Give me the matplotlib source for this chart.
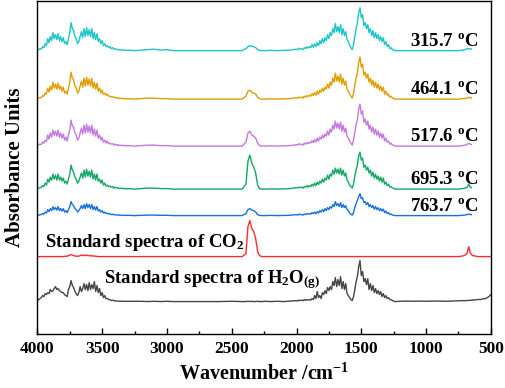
import numpy as np
import matplotlib.pyplot as plt
from matplotlib.ticker import MultipleLocator

nan = float("nan")

# wavenumber grid (cm-1): O-H stretch band, CO2 region, H2O bending band, low-wavenumber end
wn_left = [4000, 3990, 3980, 3970, 3960, 3950, 3940, 3930, 3920, 3910,
           3900, 3890, 3880, 3870, 3860, 3850, 3840, 3830, 3820, 3810,
           3800, 3790, 3780, 3770, 3760, 3750, 3740, 3730, 3720, 3710,
           3700, 3690, 3680, 3670, 3660, 3650, 3640, 3630, 3620, 3610,
           3600, 3590, 3580, 3570, 3560, 3550, 3540, 3530, 3520, 3510,
           3500, 3490, 3480, 3470, 3460, 3450, 3440, 3430, 3420, 3410,
           3400, 3390, 3380, 3370, 3360, 3350, 3340, 3330, 3320, 3310,
           3300]
wn_mid = [3250, 3200, 3150, 3100, 3050, 3000, 2950, 2900, 2800, 2700, 2600, 2500, 2420, 2390,
          2375, 2360, 2345, 2330, 2315, 2300, 2285, 2270, 2240, 2200, 2150, 2100, 2050]
wn_right = [2000, 1990, 1980, 1970, 1960, 1950, 1940, 1930, 1920, 1910,
            1900, 1890, 1880, 1870, 1860, 1850, 1840, 1830, 1820, 1810,
            1800, 1790, 1780, 1770, 1760, 1750, 1740, 1730, 1720, 1710,
            1700, 1690, 1680, 1670, 1660, 1650, 1640, 1630, 1620, 1610,
            1600, 1590, 1580, 1570, 1560, 1550, 1540, 1530, 1520, 1510,
            1500, 1490, 1480, 1470, 1460, 1450, 1440, 1430, 1420, 1410,
            1400, 1390, 1380, 1370, 1360, 1350, 1340, 1330, 1320, 1310,
            1300, 1290, 1280, 1270, 1260, 1250, 1240]
wn_end = [1200, 1150, 1100, 1050, 1000, 950, 900, 850, 800, 750, 720, 700, 685, 670, 660, 650,
          640, 620, 600, 580, 560, 540, 520, 500]

# absorbance (arbitrary units), same grid
a_315 = [0, 1, 2, 1.5, 4, 3, 7, 5, 12, 8,
         14, 10, 18, 12, 16, 11, 17, 10, 14, 9,
         13, 7, 9, 6, 12, 18, 28, 22, 20, 14,
         12, 7, 9, 14, 19, 13, 22, 14, 23, 15,
         21, 14, 22, 12, 18, 11, 17, 9, 12, 7,
         10, 5, 7, 4, 5, 3, 4, 2, 3, 1.5,
         2, 1, 1.5, 0.5, 1, 0.5, 0.8, 0.3, 0.5, 0.3,
         0.5,
         0, 0.5, 1, 1.5, 0.5, 1, 0, 0, 0, 0, 0, 0, 0, 2, 4, 5, 4.5, 4, 3, 1, 0.3, 0, 0, 0.3, 0, 0.3, 0.5,
         1.5, 1, 2.5, 1.5, 2, 1, 3, 2, 4, 2.5,
         4, 3, 6, 3.5, 7, 4, 8, 5, 10, 7,
         12, 8, 13, 10, 16, 12, 18, 15, 22, 18,
         27, 19, 24, 18, 26, 16, 22, 15, 19, 11,
         9, 5, 3, 1, 6, 15, 22, 28, 38, 43,
         33, 36, 25, 28, 22, 26, 18, 22, 15, 20,
         13, 18, 12, 16, 10, 14, 9, 13, 6, 9,
         4, 6, 2, 3, 1, 1, 0,
         0, 0, 0, 0, 0, 0, 0, 0, 0, 0, 0.5, 1, 2, 1.5, 2, 1.5, nan, nan, nan, nan, nan, nan, nan, nan]
a_464 = [0, 1, 1.5, 1.5, 3.5, 3, 6, 5, 11, 7,
         13, 9, 17, 11, 15, 10, 16, 10, 13, 8,
         12, 6, 8, 5, 11, 17, 27, 21, 19, 13,
         11, 6, 8, 13, 18, 12, 21, 13, 22, 14,
         20, 13, 21, 11, 17, 10, 16, 8, 11, 6,
         9, 5, 6, 4, 5, 3, 3, 2, 2.5, 1.5,
         2, 1, 1.5, 0.5, 1, 0.5, 0.8, 0.3, 0.5, 0.3,
         0.5,
         0, 0.5, 1, 1, 0.5, 0.5, 0, 0, 0, 0, 0, 0, 0, 3, 8, 9, 7, 6, 5, 2, 0.5, 0, 0, 0.3, 0, 0.3, 0.5,
         1.5, 1, 2, 1.5, 2, 1, 3, 2, 3.5, 2.5,
         4, 3, 5.5, 3.5, 6.5, 4, 8, 5, 9, 7,
         11, 8, 12, 10, 15, 11, 17, 14, 21, 17,
         26, 18, 23, 17, 25, 15, 21, 14, 18, 10,
         8, 5, 3, 1, 6, 14, 21, 27, 37, 42,
         32, 35, 24, 27, 21, 25, 17, 21, 14, 19,
         12, 17, 11, 15, 9, 13, 8, 12, 5, 8,
         4, 5, 2, 3, 1, 1, 0,
         0, 0, 0, 0, 0, 0, 0, 0, 0, 0, 0.5, 0.5, 1, 1.5, 2, 1, nan, nan, nan, nan, nan, nan, nan, nan]
a_517 = [0, 1.5, 2, 1.5, 4, 3, 6, 4.5, 11, 7,
         13, 9, 16, 11, 15, 10, 16, 9, 13, 8,
         12, 6, 9, 5, 11, 16, 26, 20, 19, 13,
         11, 6, 8, 13, 18, 12, 21, 13, 22, 14,
         20, 13, 21, 11, 17, 10, 16, 8, 11, 6,
         9, 4, 6, 3, 5, 2.5, 3, 2, 2.5, 1,
         2, 1, 1.5, 0.5, 1, 0.5, 0.8, 0.3, 0.5, 0.3,
         0.5,
         0, 0.5, 1, 1, 0.5, 0.5, 0, 0, 0, 0, 0, 0, 0, 4, 13, 15, 11, 10, 8, 3, 0.5, 0, 0, 0.3, 0, 0.3, 0.5,
         1.5, 1, 2.5, 1.5, 2, 1, 3, 2, 3.5, 2.5,
         4, 3, 5.5, 3.5, 6.5, 4, 8, 5, 9, 7,
         11, 8, 12, 10, 15, 11, 17, 14, 21, 17,
         25, 18, 23, 17, 24, 15, 21, 14, 18, 10,
         8, 5, 3, 1, 6, 14, 21, 27, 37, 42,
         32, 35, 24, 27, 21, 25, 17, 21, 14, 19,
         12, 17, 11, 15, 9, 13, 8, 12, 5, 8,
         4, 5, 2, 3, 1, 1, 0,
         0, 0, 0, 0, 0, 0, 0, 0, 0, 0, 0.5, 1, 1.5, 3, 2, 1.5, nan, nan, nan, nan, nan, nan, nan, nan]
a_695 = [0, 1, 1.5, 1.5, 3.5, 2.5, 6, 4, 10, 7,
         12, 9, 15, 10, 14, 9, 15, 9, 12, 8,
         11, 6, 8, 5, 10, 15, 24, 19, 17, 12,
         10, 6, 8, 12, 16, 11, 19, 12, 20, 13,
         18, 12, 19, 10, 15, 9, 15, 8, 10, 6,
         9, 4, 6, 3, 4, 2.5, 3, 2, 2.5, 1,
         2, 1, 1.5, 0.5, 1, 0.5, 0.8, 0.3, 0.5, 0.3,
         0.5,
         0, 0.5, 1, 1, 0.5, 0.5, 0, 0, 0, 0, 0, 0, 0, 5, 28, 34, 26, 22, 16, 4, 0.5, 0, 0, 0.3, 0, 0.3, 0.5,
         1.5, 1, 2, 1.5, 2, 1, 2.5, 2, 3.5, 2,
         3.5, 2.5, 5, 3, 6, 3.5, 7, 4.5, 8, 6,
         10, 7, 11, 9, 14, 10, 15, 13, 19, 15,
         21, 16, 20, 15, 21, 14, 19, 13, 16, 9,
         7, 4, 2.5, 1, 5, 13, 19, 24, 33, 37,
         29, 31, 22, 24, 19, 22, 16, 19, 13, 17,
         11, 15, 10, 13, 8, 12, 7, 11, 5, 7,
         3.5, 5, 2, 2.5, 1, 1, 0,
         0, 0, 0, 0, 0, 0, 0, 0, 0, 0, 0.5, 1, 1.5, 5, 2, 1.5, nan, nan, nan, nan, nan, nan, nan, nan]
a_763 = [0, 0.5, 1, 1, 2, 1.5, 3.5, 2.5, 6, 4,
         7, 5, 9, 6, 8, 5.5, 9, 5, 7, 4.5,
         7, 3.5, 5, 3, 6, 9, 14, 11, 10, 7,
         6, 3.5, 5, 7, 10, 7, 11, 7, 12, 8,
         11, 7, 11, 6, 9, 5.5, 9, 4.5, 6, 3.5,
         5, 2.5, 3.5, 2, 2.5, 1.5, 2, 1, 1.5, 0.8,
         1, 0.5, 0.8, 0.3, 0.5, 0.3, 0.4, 0.2, 0.3, 0.2,
         0.3,
         0, 0.3, 0.5, 0.5, 0.3, 0.3, 0, 0, 0, 0, 0, 0, 0, 2, 6, 7, 5.5, 5, 3.5, 1, 0.3, 0, 0, 0.2, 0, 0.2, 0.3,
         1, 0.5, 1.5, 1, 1, 0.5, 1.5, 1, 2, 1.5,
         2, 1.5, 3, 2, 3.5, 2, 4, 2.5, 5, 3.5,
         6, 4, 7, 5, 8, 6, 9, 7.5, 11, 9,
         14, 10, 12, 9, 13, 8, 11, 8, 10, 6,
         5, 2.5, 1.5, 0.5, 3, 8, 12, 15, 19, 22,
         17, 18, 13, 14, 11, 13, 9, 11, 8, 10,
         6.5, 9, 6, 8, 5, 7, 4.5, 6.5, 3, 4.5,
         2, 3, 1, 1.5, 0.5, 0.5, 0,
         0, 0, 0, 0, 0, 0, 0, 0, 0, 0, 0.3, 0.5, 1, 1.5, 1, 1, nan, nan, nan, nan, nan, nan, nan, nan]
a_co2 = [0, 0, 0, 0, 0, 0, 0, 0, 0, 0,
         0, 0, 0, 0, 0, 0, 0, 0, 0, 0,
         0, 0.3, 0.5, 0.3, 1, 1.5, 2, 1.5, 1, 0.5,
         0.5, 0.3, 0.5, 1, 1.5, 1, 1.5, 1, 1.5, 1,
         1, 0.5, 1, 0.5, 0.5, 0.3, 0.3, 0, 0, 0,
         0, 0, 0, 0, 0, 0, 0, 0, 0, 0,
         0, 0, 0, 0, 0, 0, 0, 0, 0, 0,
         0,
         0, 0, 0, 0, 0, 0, 0, 0, 0, 0, 0, 0, 0, 3, 30, 36, 28, 25, 18, 5, 1, 0, 0, 0, 0, 0, 0,
         0, 0, 0, 0, 0, 0, 0, 0, 0, 0,
         0, 0, 0, 0, 0, 0, 0, 0, 0, 0,
         0, 0, 0, 0, 0, 0, 0, 0, 0, 0,
         0, 0, 0, 0, 0, 0, 0, 0, 0, 0,
         0, 0, 0, 0, 0, 0, 0, 0, 0, 0,
         0, 0, 0, 0, 0, 0, 0, 0, 0, 0,
         0, 0, 0, 0, 0, 0, 0, 0, 0, 0,
         0, 0, 0, 0, 0, 0, 0,
         0, 0, 0, 0, 0, 0, 0, 0, 0, 0, 0.5, 1.5, 3, 10, 4, 2, 1, 0.5, 0, 0, 0, 0, 0, 0]
a_h2o = [1, 2, 3, 4, 6, 5, 8, 7, 9, 8,
         12, 10, 11, 13, 15, 12, 13, 11, 10, 9,
         9, 7, 6, 5, 12, 15, 21, 16, 14, 10,
         8, 6, 9, 15, 10, 13, 18, 12, 17, 11,
         19, 12, 17, 13, 20, 10, 16, 9, 13, 6,
         9, 4, 6, 3, 3, 2, 2, 1, 1.5, 0.8,
         0.8, 0.5, 0.6, 0.3, 0.5, 0.3, 0.4, 0.2, 0.3, 0.2,
         0.3,
         0.3, 0.3, 0, 0.3, 0, 0.3, 0, 0, 0, 0, 0, 0.3, 0, 0, 0.3, 0, 0.3, 0, 0, 0.3, 0, 0, 0.3, 0, 0.3, 0, 0.5,
         1, 0.5, 1.5, 1, 1.5, 0.8, 2, 1.2, 2, 1.5,
         2, 1.5, 3, 2, 6, 3, 10, 4, 6, 3,
         9, 7, 11, 8, 14, 11, 15, 12, 20, 16,
         24, 15, 22, 16, 25, 13, 20, 12, 18, 8,
         6, 4, 2, 1, 5, 12, 20, 25, 35, 41,
         26, 30, 20, 23, 17, 23, 12, 18, 11, 16,
         9, 13, 8, 11, 7, 10, 5, 8, 4, 6,
         3, 4, 2, 2, 1, 0.5, 0,
         0.3, 0.5, 0.3, 0.5, 0.3, 0.5, 0.5, 0.3, 0.5, 0.8, 1, 0.8, 1.2, 1, 1.5, 1.2, 1.8, 1.5, 2.2, 2, 2.8, 3, 4.5, 7]

temps = ["315.7", "464.1", "517.6", "695.3", "763.7"]

plt.rcParams["font.family"] = "Liberation Serif"
plt.rcParams["font.weight"] = "bold"
plt.rcParams["mathtext.fontset"] = "custom"
plt.rcParams["mathtext.rm"] = "Liberation Serif:bold"
plt.rcParams["mathtext.it"] = "Liberation Serif:bold:italic"
plt.rcParams["mathtext.bf"] = "Liberation Serif:bold"

fig = plt.figure(figsize=(5.05, 3.88), dpi=100)
ax = fig.add_axes([0.074, 0.139, 0.898, 0.858])

x = np.array(wn_left + wn_mid + wn_right + wn_end)
series = [a_315, a_464, a_517, a_695, a_763, a_co2, a_h2o]
colors = ["#1cc6c8", "#e09e00", "#c478e0", "#12a864", "#1470e0", "#ff2b2b", "#454545"]
offsets = [283.5, 235, 188, 145, 118.5, 77.5, 32.5]

for y, c, off in zip(series, colors, offsets):
    ax.plot(x, np.array(y) + off, color=c, lw=1.0)

# temperature labels
for t, off in zip(temps, offsets[:5]):
    ax.text(600, off + 5, t + r" $^{\mathrm{o}}$C", fontsize=13.5, fontweight="bold",
            ha="right", va="baseline")

ax.text(3938, 87, r"Standard spectra of CO$_2$", fontsize=13.5, fontweight="bold", va="baseline")
ax.text(3483, 51, r"Standard spectra of H$_2$O$_{\mathrm{(g)}}$", fontsize=13.5, fontweight="bold", va="baseline")

ax.set_xlim(4000, 500)
ax.set_ylim(0, 333)
ax.set_xticks([4000, 3500, 3000, 2500, 2000, 1500, 1000, 500])
ax.xaxis.set_minor_locator(MultipleLocator(250))
ax.tick_params(axis="x", direction="in", length=4, width=1, labelsize=12.5, pad=5)
ax.tick_params(axis="x", which="minor", direction="in", length=2.5, width=1)
ax.set_yticks([])
for s in ax.spines.values():
    s.set_linewidth(1.0)

ax.set_xlabel(r"Wavenumber /cm$^{-1}$", fontsize=14.5, fontweight="bold", labelpad=5)
ax.set_ylabel("Absorbance Units", fontsize=15, fontweight="bold", labelpad=9)

fig.savefig("out.png", dpi=100)
